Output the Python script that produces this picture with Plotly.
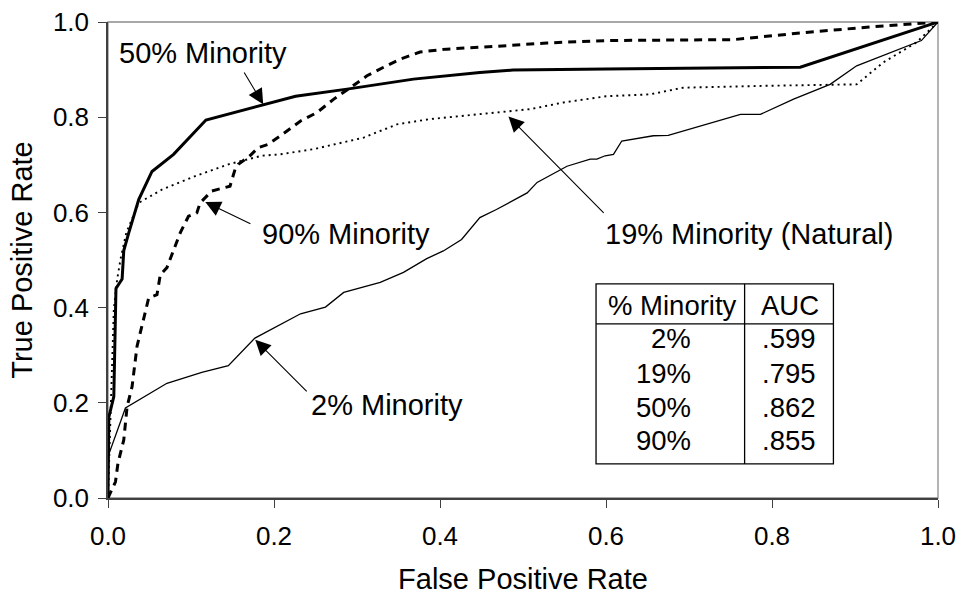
import plotly.graph_objects as go

# ---------------- data ----------------
fpr_50 = [0, 0.001, 0.007, 0.0096, 0.017, 0.019, 0.025, 0.037, 0.053, 0.079, 0.118, 0.226, 0.288, 0.368, 0.448, 0.488, 0.60, 0.834, 1.0]
tpr_50 = [0, 0.17, 0.213, 0.44, 0.46, 0.52, 0.557, 0.627, 0.686, 0.722, 0.794, 0.844, 0.859, 0.88, 0.894, 0.899, 0.901, 0.905, 1.0]

fpr_90 = [0, 0.009, 0.012, 0.019, 0.023, 0.029, 0.035, 0.049, 0.059, 0.063, 0.071, 0.079, 0.087, 0.097, 0.107, 0.111,
          0.125, 0.147, 0.153, 0.157, 0.171, 0.181, 0.193, 0.211, 0.232, 0.252, 0.272, 0.292, 0.312, 0.332, 0.352,
          0.376, 0.408, 0.468, 0.529, 0.6, 0.754, 0.834, 0.914, 1.0]
tpr_90 = [0, 0.034, 0.073, 0.122, 0.192, 0.234, 0.319, 0.42, 0.427, 0.469, 0.484, 0.522, 0.557, 0.592, 0.599, 0.62,
          0.645, 0.655, 0.69, 0.701, 0.719, 0.736, 0.743, 0.765, 0.792, 0.81, 0.838, 0.862, 0.887, 0.905, 0.922,
          0.937, 0.943, 0.949, 0.956, 0.961, 0.963, 0.977, 0.989, 1.0]

fpr_19 = [0, 0.004, 0.007, 0.011, 0.015, 0.022, 0.037, 0.065, 0.105, 0.145, 0.185, 0.2075, 0.248, 0.308, 0.348,
          0.388, 0.428, 0.488, 0.509, 0.549, 0.6, 0.653, 0.693, 0.794, 0.902, 0.934, 0.974, 1.0]
tpr_19 = [0, 0.213, 0.396, 0.459, 0.501, 0.557, 0.62, 0.648, 0.676, 0.701, 0.719, 0.722, 0.733, 0.757, 0.785,
          0.796, 0.803, 0.813, 0.817, 0.831, 0.844, 0.848, 0.862, 0.866, 0.869, 0.915, 0.957, 1.0]

fpr_2 = [0, 0, 0.021, 0.071, 0.113, 0.145, 0.177, 0.2075, 0.232, 0.262, 0.284, 0.328, 0.356, 0.384, 0.404, 0.426,
         0.448, 0.468, 0.505, 0.517, 0.553, 0.581, 0.589, 0.599, 0.609, 0.619, 0.657, 0.675, 0.762, 0.786, 0.826,
         0.87, 0.902, 0.98, 1.0]
tpr_2 = [0, 0.087, 0.189, 0.241, 0.264, 0.278, 0.336, 0.364, 0.387, 0.401, 0.432, 0.453, 0.474, 0.503, 0.519, 0.543,
         0.589, 0.606, 0.641, 0.663, 0.697, 0.712, 0.712, 0.719, 0.722, 0.75, 0.761, 0.762, 0.806, 0.806, 0.838,
         0.869, 0.908, 0.961, 1.0]

tick_vals = [0, 0.2, 0.4, 0.6, 0.8, 1.0]
tick_text = ["0.0", "0.2", "0.4", "0.6", "0.8", "1.0"]

table_header = ["% Minority", "AUC"]
table_minority = ["2%", "19%", "50%", "90%"]
table_auc = [".599", ".795", ".862", ".855"]

FONT = "Liberation Sans, Arial, sans-serif"

fig = go.Figure()
fig.add_trace(go.Scatter(x=fpr_2, y=tpr_2, mode="lines", name="2% Minority",
                         line=dict(color="black", width=1.3)))
fig.add_trace(go.Scatter(x=fpr_19, y=tpr_19, mode="lines", name="19% Minority (Natural)",
                         line=dict(color="black", width=1.9, dash="2px,4px")))
fig.add_trace(go.Scatter(x=fpr_90, y=tpr_90, mode="lines", name="90% Minority",
                         line=dict(color="black", width=3, dash="8px,6px")))
fig.add_trace(go.Scatter(x=fpr_50, y=tpr_50, mode="lines", name="50% Minority",
                         line=dict(color="black", width=3)))

annotations = []
# curve labels
labels = [
    ("50% Minority", 0.0108, 0.9347),
    ("90% Minority", 0.1834, 0.5537),
    ("19% Minority (Natural)", 0.5966, 0.5537),
    ("2% Minority", 0.2416, 0.1958),
]
for txt, lx, ly in labels:
    annotations.append(dict(x=lx, y=ly, xref="x", yref="y", text=txt, showarrow=False,
                            xanchor="left", yanchor="middle",
                            font=dict(family=FONT, size=29, color="black")))
# arrows (tail -> tip)
arrows = [
    ((0.163, 0.897), (0.187, 0.827)),
    ((0.1734, 0.5747), (0.1172, 0.6217)),
    ((0.599, 0.596), (0.4825, 0.8015)),
    ((0.2412, 0.221), (0.1774, 0.3326)),
]
for (tx, ty), (hx, hy) in arrows:
    annotations.append(dict(x=hx, y=hy, ax=tx, ay=ty, xref="x", yref="y", axref="x", ayref="y",
                            text="", showarrow=True, arrowhead=2, arrowsize=2.8, arrowwidth=1.1,
                            arrowcolor="black", standoff=0, startstandoff=0))

# table text
tfont = dict(family=FONT, size=27.5, color="black")
annotations.append(dict(x=0.6802, y=0.4042, xref="x", yref="y", text=table_header[0], showarrow=False,
                        xanchor="center", yanchor="middle", font=tfont))
annotations.append(dict(x=0.8217, y=0.4042, xref="x", yref="y", text=table_header[1], showarrow=False,
                        xanchor="center", yanchor="middle", font=tfont))
row_y = [0.3343, 0.2606, 0.1903, 0.1202]
for m, a, ry in zip(table_minority, table_auc, row_y):
    annotations.append(dict(x=0.7053, y=ry, xref="x", yref="y", text=m, showarrow=False,
                            xanchor="right", yanchor="middle", font=tfont))
    annotations.append(dict(x=0.8558, y=ry, xref="x", yref="y", text=a, showarrow=False,
                            xanchor="right", yanchor="middle", font=tfont))

shapes = [
    # plot frame (grey top/right)
    dict(type="rect", xref="paper", yref="paper", x0=0, x1=1, y0=0, y1=1,
         line=dict(color="#8c8c8c", width=1.3), layer="below"),
    # table
    dict(type="rect", xref="x", yref="y", x0=0.588, x1=0.874, y0=0.0716, y1=0.45,
         line=dict(color="black", width=1.3), fillcolor="rgba(0,0,0,0)"),
    dict(type="line", xref="x", yref="y", x0=0.588, x1=0.874, y0=0.3657, y1=0.3657,
         line=dict(color="black", width=1.3)),
    dict(type="line", xref="x", yref="y", x0=0.767, x1=0.767, y0=0.0716, y1=0.45,
         line=dict(color="black", width=1.3)),
]

axis_common = dict(range=[0, 1], tickvals=tick_vals, ticktext=tick_text, ticks="outside", ticklen=8,
                   tickwidth=1.3, tickcolor="#404040", showline=True, linecolor="#404040", linewidth=1.5,
                   showgrid=False, zeroline=False, automargin=False, ticklabeloverflow="allow",
                   tickfont=dict(family=FONT, size=26, color="black"))

fig.update_layout(
    width=961, height=597,
    margin=dict(l=108, r=23, t=22, b=99),
    paper_bgcolor="white", plot_bgcolor="white",
    showlegend=False,
    xaxis=dict(**axis_common, ticklabelstandoff=6,
               title=dict(text="False Positive Rate", font=dict(family=FONT, size=29, color="black"), standoff=19)),
    yaxis=dict(**axis_common, ticklabelstandoff=4,
               title=dict(text="True Positive Rate", font=dict(family=FONT, size=29, color="black"), standoff=12)),
    annotations=annotations,
    shapes=shapes,
)

# remove the default 8px page margin so the figure fills the window exactly; hide the mode bar
fig.write_html("out.html", config={"displayModeBar": False},
               post_script="document.body.style.margin='0';")
